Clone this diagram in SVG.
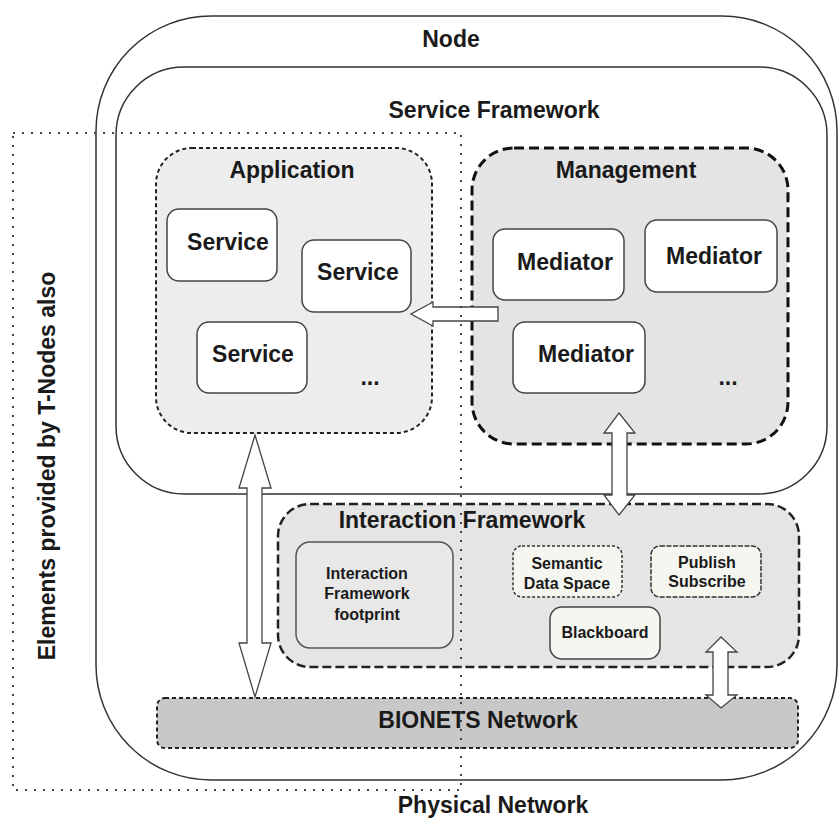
<svg xmlns="http://www.w3.org/2000/svg" width="839" height="820" viewBox="0 0 839 820">
<style>
text{font-family:"Liberation Sans",Arial,sans-serif;font-weight:bold;fill:#1a1a1a;text-anchor:middle}
.big{font-size:23px}
.sm{font-size:16px}
.frame{fill:none;stroke:#333;stroke-width:1.5}
.box{fill:#fff;stroke:#444;stroke-width:1.5}
.arrow{fill:#fff;stroke:#444;stroke-width:1.3;stroke-linejoin:miter}
</style>
<rect width="839" height="820" fill="#fff"/>
<g id="node">
<rect class="frame" x="96" y="16" width="741" height="764" rx="115" ry="115"/>
<text class="big" x="451" y="47">Node</text>
</g>
<g id="service-framework">
<rect class="frame" x="116" y="67" width="711" height="427" rx="68" ry="68"/>
<text class="big" x="494" y="118">Service Framework</text>
</g>
<g id="application">
<rect x="156" y="148" width="276" height="285" rx="36" fill="#ededed" stroke="#222" stroke-width="2" stroke-dasharray="4 3"/>
<text class="big" x="292" y="178">Application</text>
</g>
<g id="service1">
<rect class="box" x="167" y="209" width="110" height="72" rx="12"/>
<text class="big" x="228" y="250">Service</text>
</g>
<g id="service2">
<rect class="box" x="302" y="240" width="109" height="72" rx="12"/>
<text class="big" x="358" y="280">Service</text>
</g>
<g id="service3">
<rect class="box" x="197" y="322" width="110" height="71" rx="12"/>
<text class="big" x="253" y="362">Service</text>
</g>
<text class="big" x="370" y="385">...</text>
<g id="management">
<rect x="472" y="148" width="316" height="296" rx="42" fill="#e4e4e4" stroke="#111" stroke-width="3" stroke-dasharray="10 5"/>
<text class="big" x="626" y="178">Management</text>
</g>
<g id="mediator1">
<rect class="box" x="493" y="229" width="131" height="71" rx="12"/>
<text class="big" x="565" y="270">Mediator</text>
</g>
<g id="mediator2">
<rect class="box" x="645" y="220" width="132" height="72" rx="12"/>
<text class="big" x="714" y="264">Mediator</text>
</g>
<g id="mediator3">
<rect class="box" x="513" y="322" width="132" height="71" rx="12"/>
<text class="big" x="586" y="362">Mediator</text>
</g>
<text class="big" x="728" y="385">...</text>
<g id="interaction-framework">
<rect x="278" y="504" width="521" height="163" rx="32" fill="#e5e5e5" stroke="#222" stroke-width="2.5" stroke-dasharray="9 4"/>
<text class="big" x="462" y="528">Interaction Framework</text>
</g>
<g id="footprint">
<rect x="296" y="542" width="157" height="106" rx="14" fill="#e8e8e8" stroke="#555" stroke-width="1.5"/>
<text class="sm" x="367" y="579">Interaction</text>
<text class="sm" x="367" y="599">Framework</text>
<text class="sm" x="367" y="620">footprint</text>
</g>
<g id="semantic-data-space">
<rect x="513" y="546" width="109" height="51" rx="9" fill="#f5f6ef" stroke="#333" stroke-width="1.5" stroke-dasharray="3 2"/>
<text class="sm" x="567" y="569">Semantic</text>
<text class="sm" x="567" y="589">Data Space</text>
</g>
<g id="publish-subscribe">
<rect x="651" y="546" width="110" height="51" rx="9" fill="#f5f6ef" stroke="#333" stroke-width="1.5" stroke-dasharray="5 1.5"/>
<text class="sm" x="707" y="568">Publish</text>
<text class="sm" x="707" y="587">Subscribe</text>
</g>
<g id="blackboard">
<rect x="550" y="607" width="110" height="52" rx="12" fill="#f5f6ef" stroke="#444" stroke-width="1.5"/>
<text class="sm" x="605" y="638">Blackboard</text>
</g>
<g id="bionets-network">
<rect x="157" y="698" width="641" height="50" rx="8" fill="#c8c8c8" stroke="#222" stroke-width="2" stroke-dasharray="4 3"/>
<text class="big" x="478" y="728">BIONETS Network</text>
</g>
<g id="connectors">
<polygon class="arrow" points="498,307 433,307 433,302 411,314 433,326 433,321 498,321"/>
<polygon class="arrow" points="255,435 271,488 262,488 262,643 271,643 255,697 239,643 247,643 247,488 239,488"/>
<polygon class="arrow" points="619,413 635,433 627,433 627,495 635,495 619,515 604,495 612,495 612,433 604,433"/>
<polygon class="arrow" points="721,637 737,652 728,652 728,695 737,695 721,708 706,695 713,695 713,652 706,652"/>
</g>
<g id="t-nodes-region">
<rect x="13" y="133" width="448" height="657" fill="none" stroke="#444" stroke-width="2" stroke-dasharray="2 7"/>
<text class="big" transform="translate(55,466) rotate(-90)">Elements provided by T-Nodes also</text>
</g>
<text class="big" x="493" y="813">Physical Network</text>
</svg>
